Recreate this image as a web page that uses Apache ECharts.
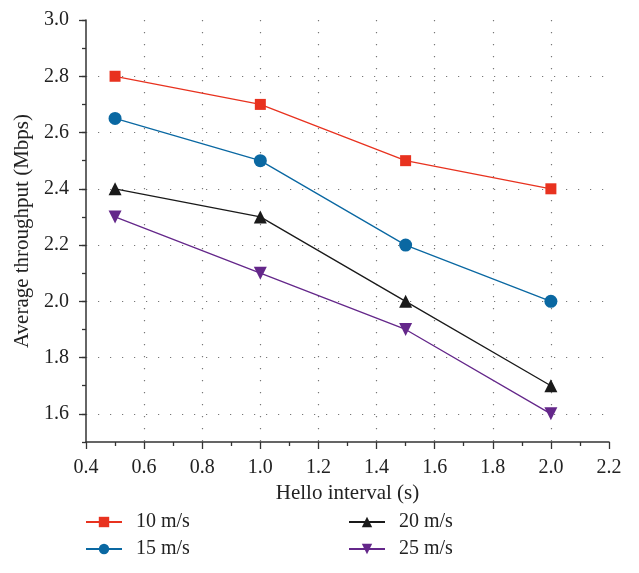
<!DOCTYPE html>
<html>
<head>
<meta charset="utf-8">
<script src="https://cdn.jsdelivr.net/npm/echarts@6/dist/echarts.min.js"></script>
<style>
  html, body { margin: 0; padding: 0; background: #fff; }
  #content { width: 639px; height: 573px; }
</style>
</head>
<body>
<div id="content"></div>
<script>
// data
var helloInterval = [0.5, 1.0, 1.5, 2.0];
var speed10 = [2.8, 2.7, 2.5, 2.4];
var speed15 = [2.65, 2.5, 2.2, 2.0];
var speed20 = [2.4, 2.3, 2.0, 1.7];
var speed25 = [2.3, 2.1, 1.9, 1.6];
var yMajorTicks = [1.6, 1.8, 2.0, 2.2, 2.4, 2.6, 2.8, 3.0];
var yGridLines = [1.6, 1.8, 2.0, 2.2, 2.4, 2.6, 2.8];

var font = '"Liberation Serif", "DejaVu Serif", serif';
var axisColor = '#333';
var textColor = '#222';

function pairs(ys) {
    return helloInterval.map(function (x, i) { return [x, ys[i]]; });
}

function line(name, ys, color, symbol, size, rotate) {
    return {
        name: name,
        type: 'line',
        data: pairs(ys),
        symbol: symbol,
        symbolSize: size,
        symbolRotate: rotate || 0,
        lineStyle: { color: color, width: 1.3 },
        itemStyle: { color: color },
        z: 3
    };
}

var legendBase = {
    orient: 'vertical',
    top: 512,
    padding: 0,
    itemWidth: 36,
    itemHeight: 13,
    itemGap: 7,
    textStyle: { fontFamily: font, fontSize: 20, color: textColor, padding: [0, 0, 0, 9] }
};

var myChart = echarts.init(document.getElementById('content'));
myChart.setOption({
    animation: false,
    textStyle: { fontFamily: font },
    grid: { left: 86, top: 20, right: 30, bottom: 131, containLabel: false },
    xAxis: {
        type: 'value',
        min: 0.4,
        max: 2.2,
        interval: 0.2,
        name: 'Hello interval (s)',
        nameLocation: 'middle',
        nameGap: 40,
        nameTextStyle: { fontFamily: font, fontSize: 21, color: textColor },
        axisLine: { lineStyle: { color: axisColor, width: 1.5 } },
        axisTick: { inside: false, length: 7, lineStyle: { color: axisColor, width: 1.3 } },
        minorTick: { show: true, splitNumber: 2, length: 4, lineStyle: { color: axisColor, width: 1.3 } },
        axisLabel: {
            fontFamily: font, fontSize: 20, color: textColor, margin: 16,
            formatter: function (v) { return v.toFixed(1); }
        },
        splitLine: {
            show: true,
            showMinLine: false,
            showMaxLine: false,
            lineStyle: { color: '#777', width: 1.2, type: [1.2, 10.8] }
        }
    },
    yAxis: [{
        type: 'value',
        min: 1.5,
        max: 3.0,
        interval: 0.1,
        position: 'left',
        name: 'Average throughput (Mbps)',
        nameLocation: 'middle',
        nameGap: 49,
        nameTextStyle: { fontFamily: font, fontSize: 21, color: textColor },
        axisLine: { show: true, lineStyle: { color: axisColor, width: 1.5 } },
        axisTick: { inside: false, length: 4, lineStyle: { color: axisColor, width: 1.3 } },
        axisLabel: {
            fontFamily: font, fontSize: 20, color: textColor, margin: 17,
            customValues: yMajorTicks,
            formatter: function (v) { return v.toFixed(1); }
        },
        splitLine: { show: false }
    }, {
        type: 'value',
        min: 1.5,
        max: 3.0,
        position: 'left',
        axisLine: { show: false },
        axisTick: {
            show: true, inside: false, length: 7,
            customValues: yGridLines.concat([3.0]),
            lineStyle: { color: axisColor, width: 1.3 }
        },
        axisLabel: { show: false },
        splitLine: {
            show: true,
            showMaxLine: false,
            lineStyle: { color: '#777', width: 1.2, type: [1.2, 10.8] }
        }
    }],
    legend: [
        Object.assign({ data: ['10 m/s', '15 m/s'], left: 85 }, legendBase),
        Object.assign({ data: ['20 m/s', '25 m/s'], left: 348 }, legendBase)
    ],
    series: [
        line('10 m/s', speed10, '#e8321f', 'rect', 11),
        line('15 m/s', speed15, '#0a68a2', 'circle', 13),
        line('20 m/s', speed20, '#1a1a1a', 'triangle', 13),
        line('25 m/s', speed25, '#64278a', 'triangle', 13, 180)
    ]
});
</script>
</body>
</html>
